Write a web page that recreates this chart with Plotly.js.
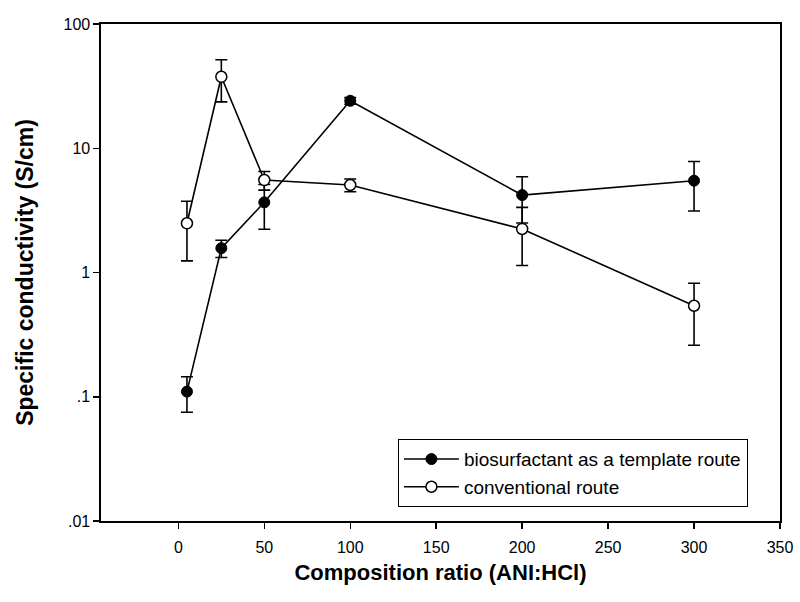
<!DOCTYPE html>
<html>
<head>
<meta charset="utf-8">
<script src="https://cdn.plot.ly/plotly-3.0.1.min.js"></script>
<style>html,body{margin:0;padding:0;background:#fff;}#chart{width:800px;height:602px;}</style>
</head>
<body>
<div id="chart"></div>
<script>
// Composition ratio (ANI:HCl)
const ratio = [5, 25, 50, 100, 200, 300];
// Biosurfactant as a template route
const bioValues = [0.11, 1.57, 3.67, 24.1, 4.2, 5.48];
const bioErrors = [0.035, 0.25, 1.44, 1.5, 1.7, 2.35];
// Conventional route
const convValues = [2.49, 37.6, 5.55, 5.06, 2.24, 0.54];
const convErrors = [1.25, 14, 0.95, 0.6, 1.1, 0.28];
// Axis ticks
const xTickVals = [0, 50, 100, 150, 200, 250, 300, 350];
const xTickText = ['0', '50', '100', '150', '200', '250', '300', '350'];
const yTickVals = [0.01, 0.1, 1, 10, 100];
const yTickText = ['.01', '.1', '1', '10', '100'];

const FONT = 'Liberation Sans, Arial, sans-serif';

const traces = [
  {
    x: ratio, y: bioValues, type: 'scatter', mode: 'lines+markers',
    name: 'biosurfactant as a template route',
    line: {color: '#000', width: 1.6},
    marker: {symbol: 'circle', size: 11, color: '#000', line: {color: '#000', width: 1}},
    error_y: {type: 'data', array: bioErrors, visible: true, color: '#000', thickness: 1.6, width: 6}
  },
  {
    x: ratio, y: convValues, type: 'scatter', mode: 'lines+markers',
    name: 'conventional route',
    line: {color: '#000', width: 1.6},
    marker: {symbol: 'circle', size: 11, color: '#fff', line: {color: '#000', width: 1.5}},
    error_y: {type: 'data', array: convErrors, visible: true, color: '#000', thickness: 1.6, width: 6}
  }
];

const layout = {
  width: 800, height: 602,
  margin: {l: 101, r: 20, t: 24, b: 81},
  paper_bgcolor: '#fff', plot_bgcolor: '#fff',
  font: {family: FONT, color: '#000', size: 16},
  showlegend: true,
  legend: {
    x: 0.437, y: 0.165, xanchor: 'left', yanchor: 'top',
    bgcolor: '#fff', bordercolor: '#000', borderwidth: 1.2,
    font: {family: FONT, size: 19, color: '#000'},
    itemwidth: 55,
    tracegroupgap: 0
  },
  xaxis: {
    range: [-45, 350],
    tickvals: xTickVals, ticktext: xTickText,
    ticks: 'outside', ticklen: 6, tickwidth: 1.5, tickcolor: '#000',
    ticklabelstandoff: 5,
    showline: true, linecolor: '#000', linewidth: 1.6, mirror: true,
    showgrid: false, zeroline: false,
    tickfont: {family: FONT, size: 16, color: '#000'},
    title: {text: 'Composition ratio (ANI:HCl)', standoff: 10,
            font: {family: FONT, size: 22, color: '#000', weight: 'bold'}}
  },
  yaxis: {
    type: 'log', range: [-2, 2],
    tickvals: yTickVals, ticktext: yTickText,
    ticks: 'outside', ticklen: 6, tickwidth: 1.5, tickcolor: '#000',
    showline: true, linecolor: '#000', linewidth: 1.6, mirror: true,
    showgrid: false, zeroline: false,
    tickfont: {family: FONT, size: 16, color: '#000'},
    title: {text: 'Specific conductivity (S/cm)', standoff: 23,
            font: {family: FONT, size: 23, color: '#000', weight: 'bold'}}
  }
};

Plotly.newPlot('chart', traces, layout, {displayModeBar: false, staticPlot: true});
</script>
</body>
</html>
